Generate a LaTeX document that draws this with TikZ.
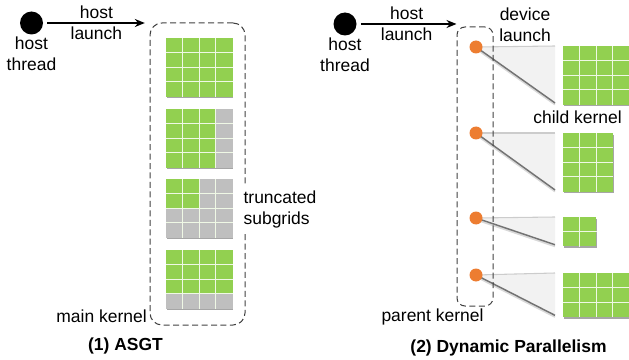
\documentclass[tikz,border=0pt]{standalone}
\usepackage{fontspec}
\setmainfont{Liberation Sans}
\usetikzlibrary{arrows.meta, positioning, shadows, backgrounds}
\definecolor{kgreen}{HTML}{92D050}
\definecolor{kgray}{HTML}{BFBFBF}
\definecolor{korange}{HTML}{ED7D31}
\definecolor{kfan}{HTML}{F2F2F2}
\newcommand{\cellw}{12.45pt}
\newcommand{\cellh}{10.95pt}
\tikzset{
  txt/.style = {
    font=\fontsize{13.1pt}{15.75pt}\selectfont, align=center, inner sep=0pt
  },
  caption/.style = {
    txt, font=\fontsize{13.1pt}{15.75pt}\selectfont\bfseries
  },
  thread/.style = {
    circle, fill=black, minimum size=17.25pt, inner sep=0pt
  },
  launchdot/.style = {
    circle, fill=korange, minimum size=9.75pt, inner sep=0pt
  },
  kernelbox/.style = {
    rectangle, draw=black!75, line width=0.75pt,
    dash pattern=on 4.5pt off 2.6pt, rounded corners=9pt
  },
  subgrid/.style = {
    rectangle, fill=kgreen, anchor=north west, inner sep=0pt,
    drop shadow={shadow xshift=0.5pt, shadow yshift=-1.2pt, opacity=0.35, fill=black}
  },
  cellline/.style = {draw=white!85!kgreen, line width=0.9pt},
  fan/.style = {fill=kfan},
  fanedge/.style = {draw=black!20, line width=0.8pt},
  fanline/.style = {draw=black!55, line width=1.1pt},
  arrow/.style = {-{Stealth[length=7.5pt,width=6pt]}, line width=1.1pt}
}
% name, cols, rows
\newcommand{\gridlines}[3]{%
  \pgfmathtruncatemacro\lastcol{#2-1}
  \pgfmathtruncatemacro\lastrow{#3-1}
  \foreach \i in {1,...,\lastcol}
    \draw[cellline] ([xshift=\i*\cellw]#1.north west) -- ([xshift=\i*\cellw]#1.south west);
  \foreach \j in {1,...,\lastrow}
    \draw[cellline] ([yshift=-\j*\cellh]#1.north west) -- ([yshift=-\j*\cellh]#1.north east);
}

\begin{document}
\begin{tikzpicture}[x=0.75pt, y=-0.75pt]
  \useasboundingbox (0,0) rectangle (629,360);

  % (1) ASGT
  \node[thread]    (host1)    at (31.5,23) {};
  \node[txt]       (thread1)  [below=1.5pt of host1] {host\\thread};
  \node[kernelbox, minimum width=71.25pt, minimum height=226.5pt] (main) at (197.5,174) {};

  \node[subgrid, minimum width=4*\cellw, minimum height=4*\cellh] (g1) at (166,38) {};
  \node[subgrid, minimum width=4*\cellw, minimum height=4*\cellh] (g2) at (166,109) {};
  \node[subgrid, minimum width=4*\cellw, minimum height=4*\cellh, fill=kgray] (g3) at (166,179) {};
  \node[subgrid, minimum width=4*\cellw, minimum height=4*\cellh] (g4) at (166,250) {};
  \fill[kgray]  ([xshift=3*\cellw]g2.north west) rectangle (g2.south east);
  \fill[kgreen] (g3.north west) rectangle ([xshift=2*\cellw, yshift=-2*\cellh]g3.north west);
  \fill[kgray]  ([yshift=\cellh]g4.south west) rectangle (g4.south east);
  \foreach \g in {g1,g2,g3,g4} {\gridlines{\g}{4}{4}}

  \draw[arrow, shorten <=3pt, shorten >=3.5pt] (host1) -- node[txt]{host\\launch} (host1 -| main.north west);

  \node[txt, align=left, fill=white, inner ysep=4pt, inner xsep=1pt, anchor=west] (trunc) at (242,209) {truncated\\subgrids};
  \node[txt, anchor=base east] (mainlbl) at (147,322) {main kernel};
  \node[caption, anchor=base]  (cap1)    at (125.5,350) {(1) ASGT};

  % (2) Dynamic Parallelism
  \node[thread]    (host2)    at (345,24) {};
  \node[txt]       (thread2)  [below=1.5pt of host2] {host\\thread};
  \node[kernelbox, rounded corners=6pt, minimum width=27pt, minimum height=209.25pt] (parent) at (475,166.5) {};

  \node[launchdot] (c1) at (476,47) {};
  \node[launchdot] (c2) at (476,133) {};
  \node[launchdot] (c3) at (476,218) {};
  \node[launchdot] (c4) at (476,275) {};

  \node[subgrid, minimum width=4*\cellw, minimum height=4*\cellh] (k1) at (563,46) {};
  \node[subgrid, minimum width=3*\cellw, minimum height=4*\cellh] (k2) at (563,133) {};
  \node[subgrid, minimum width=2*\cellw, minimum height=2*\cellh] (k3) at (563,217) {};
  \node[subgrid, minimum width=4*\cellw, minimum height=3*\cellh] (k4) at (563,273) {};
  \gridlines{k1}{4}{4}
  \gridlines{k2}{3}{4}
  \gridlines{k3}{2}{2}
  \gridlines{k4}{4}{3}

  \begin{scope}[on background layer]
    \foreach \c/\k in {c1/k1, c2/k2, c3/k3, c4/k4} {
      \fill[fan] (\c.center) -- ([xshift=-6pt]\k.north west) -- ([xshift=-6pt, yshift=1.5pt]\k.south west) -- cycle;
      \draw[fanedge] (\c.center) -- ([xshift=-6pt]\k.north west);
      \draw[draw=black!15, line width=1.4pt] ([yshift=-1.2pt]\c.center) -- ([xshift=-6pt, yshift=0.3pt]\k.south west);
      \draw[fanline] (\c.center) -- ([xshift=-6pt, yshift=1.5pt]\k.south west);
    }
  \end{scope}

  \draw[arrow, shorten <=3pt] (host2) -- node[txt]{host\\launch} (host2 -| parent.north west);

  \node[txt]                   (devlbl)    at (525,24.3) {device\\launch};
  \node[txt, anchor=base]      (childlbl)  at (577.5,123) {child kernel};
  \node[txt, anchor=base]      (parentlbl) at (432.5,321) {parent kernel};
  \node[caption, anchor=base]  (cap2)      at (508.5,352) {(2) Dynamic Parallelism};

\end{tikzpicture}
\end{document}
